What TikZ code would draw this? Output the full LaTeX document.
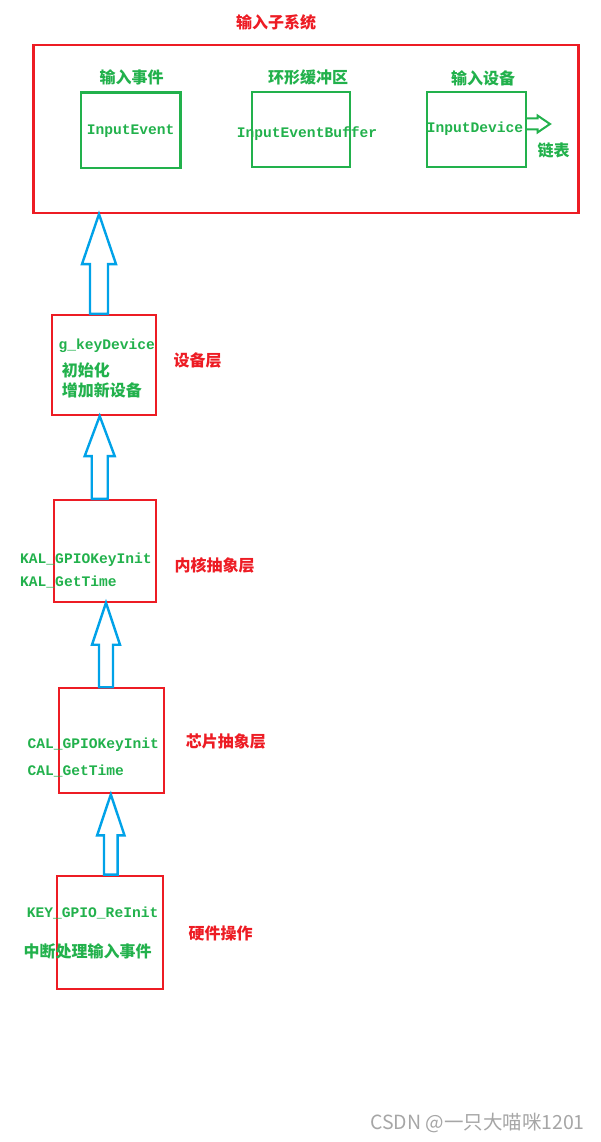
\documentclass[tikz,border=0pt]{standalone}
\usepackage{fontspec}
\usepackage{tikz}
\usetikzlibrary{calc}
\newfontfamily\cjk{Noto Sans CJK SC}
\newfontfamily\code{Liberation Mono}
\definecolor{PaintRed}{HTML}{ED1C24}
\definecolor{PaintGreen}{HTML}{22B14C}
\definecolor{PaintBlue}{HTML}{00A2E8}
\definecolor{MarkGray}{HTML}{A6A6A6}

% hollow up arrow: lower node, upper node, x, shaft half, head half, head length
\newcommand{\hollowup}[6]{%
  \draw[hollow] let \p1=(#1.north), \p2=(#2.south) in
    (#3pt-#4pt,\y1) -- (#3pt-#4pt,\y2-#6pt) -- (#3pt-#5pt,\y2-#6pt) -- (#3pt,\y2)
    -- (#3pt+#5pt,\y2-#6pt) -- (#3pt+#4pt,\y2-#6pt) -- (#3pt+#4pt,\y1) -- cycle;}

\begin{document}
\begin{tikzpicture}[
    x=1pt,y=-1pt,
    layer/.style={draw=PaintRed,line width=2.2pt,inner sep=0pt},
    part/.style={draw=PaintGreen,line width=2.2pt,inner sep=0pt},
    codetxt/.style={text=PaintGreen,font=\code\bfseries\fontsize{14.6}{16}\selectfont,inner sep=0pt},
    cntxt/.style={text=PaintGreen,font=\cjk\bfseries\fontsize{16}{18}\selectfont,inner sep=0pt},
    layertxt/.style={text=PaintRed,font=\cjk\bfseries\fontsize{16}{18}\selectfont,inner sep=0pt},
    hollow/.style={draw=PaintBlue,line width=2.4pt,fill=white,line join=miter}
  ]
    \useasboundingbox (0,0) rectangle (600,1142);

    % input subsystem
    \node[layertxt] (systitle) at (276,22) {输入子系统};
    \node[layer,minimum width=545,minimum height=168] (subsys) at (306,129) {};
    \node[part,minimum width=99.5,minimum height=75.5] (inevent) at (130.8,130.3) {};
    \node[part,minimum width=98.3,minimum height=75] (inbuf) at (300.9,129.5) {};
    \node[part,minimum width=99.3,minimum height=75] (indev) at (476.3,129.2) {};
    \node[cntxt] (lblevent) at (131.7,77.7) {输入事件};
    \node[cntxt] (lblbuf) at (308,77) {环形缓冲区};
    \node[cntxt] (lbldev) at (483,78.5) {输入设备};
    \node[codetxt] (txtevent) at (130.7,131) {InputEvent};
    \node[codetxt] (txtbuf) at (307,134) {InputEventBuffer};
    \node[codetxt] (txtdev) at (475,129) {InputDevice};
    \node[cntxt] (lbllist) at (553.5,150) {链表};
    \coordinate (listtip) at (550,124);
    \draw[part,fill=white,line width=2pt] let \p1=(indev.east), \p2=(listtip) in
      (\x1,\y2+5.5pt) -- (\x2-12.5pt,\y2+5.5pt) -- (\x2-12.5pt,\y2+8.5pt) -- (\x2,\y2)
      -- (\x2-12.5pt,\y2-8.5pt) -- (\x2-12.5pt,\y2-5.5pt) -- (\x1,\y2-5.5pt);

    % device layer
    \node[layer,minimum width=104.3,minimum height=100] (devlayer) at (103.8,365) {};
    \node[codetxt,anchor=west] (keydev) at (58.3,346) {g\_keyDevice};
    \node[cntxt,anchor=west] (devinit) at (61.7,370.7) {初始化};
    \node[cntxt,anchor=west] (devadd) at (61.7,390.7) {增加新设备};
    \node[layertxt,anchor=west] (lbldevlayer) at (173.3,360) {设备层};

    % kernel abstraction layer
    \node[layer,minimum width=101.7,minimum height=101.7] (kal) at (104.8,550.8) {};
    \node[codetxt,anchor=west] (kalinit) at (20,559.3) {KAL\_GPIOKeyInit};
    \node[codetxt,anchor=west] (kaltime) at (20,582.3) {KAL\_GetTime};
    \node[layertxt,anchor=west] (lblkal) at (174.3,565.7) {内核抽象层};

    % chip abstraction layer
    \node[layer,minimum width=104.7,minimum height=105] (cal) at (111.7,740.8) {};
    \node[codetxt,anchor=west] (calinit) at (27.3,745) {CAL\_GPIOKeyInit};
    \node[codetxt,anchor=west] (caltime) at (27.3,771) {CAL\_GetTime};
    \node[layertxt,anchor=west] (lblcal) at (185.7,741) {芯片抽象层};

    % hardware
    \node[layer,minimum width=105.4,minimum height=113.6] (hw) at (110,932.5) {};
    \node[codetxt,anchor=west] (hwinit) at (26.7,912.7) {KEY\_GPIO\_ReInit};
    \node[cntxt,anchor=west] (hwirq) at (23.3,951.7) {中断处理输入事件};
    \node[layertxt,anchor=west] (lblhw) at (188.3,933.3) {硬件操作};

    \hollowup{devlayer}{subsys}{99}{9}{17}{50}
    \hollowup{kal}{devlayer}{99.7}{8}{15}{40}
    \hollowup{cal}{kal}{106}{7}{14}{42}
    \hollowup{hw}{cal}{110.8}{6.8}{13.7}{41}

    \node[text=MarkGray,font=\cjk\fontsize{19.5}{21}\selectfont,anchor=east,inner sep=0pt] (mark) at (585,1123) {CSDN @一只大喵咪1201};
  \end{tikzpicture}
\end{document}
